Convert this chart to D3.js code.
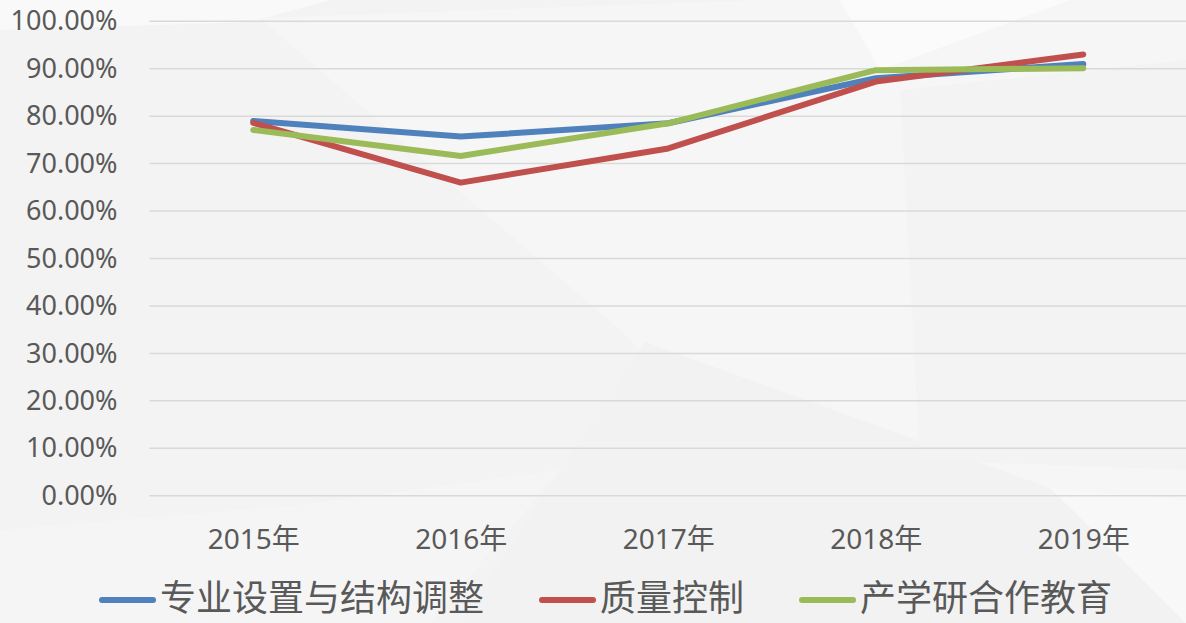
<!DOCTYPE html>
<html>
<head>
<meta charset="utf-8">
<script src="https://cdn.jsdelivr.net/npm/d3@7"></script>
<style>
  html, body { margin: 0; padding: 0; background: #f4f4f4; overflow: hidden; }
  svg { display: block; }
</style>
</head>
<body>
<svg id="chart"></svg>
<script>
// Données du graphique
const years = ["2015年", "2016年", "2017年", "2018年", "2019年"];
const seriesNames = ["专业设置与结构调整", "质量控制", "产学研合作教育"];
const majorSetup = [0.790, 0.757, 0.785, 0.880, 0.910];
const qualityControl = [0.786, 0.660, 0.732, 0.873, 0.930];
const industryEdu = [0.771, 0.716, 0.785, 0.897, 0.901];
const yTicks = [0, 0.1, 0.2, 0.3, 0.4, 0.5, 0.6, 0.7, 0.8, 0.9, 1.0];

const width = 1186;
const height = 623;
const margin = { top: 21.3, right: -1, bottom: 127.3, left: 149.5 };
const colors = ["#4f81bd", "#c0504d", "#9bbb59"];
const textColor = "#595959";

const series = seriesNames.map((name, i) => ({
    name,
    color: colors[i],
    values: [majorSetup, qualityControl, industryEdu][i]
}));

const svg = d3.select("#chart")
    .attr("width", width)
    .attr("height", height);

// Fond géométrique léger
const bg = svg.append("g");
bg.append("rect").attr("width", width).attr("height", height).attr("fill", "#f3f3f3");
const shapes = [
    { pts: [[0, 0], [330, 0], [250, 22], [0, 30]], fill: "#f9f9f9" },
    { pts: [[260, 18], [760, 0], [1190, 0], [1190, 623], [900, 623], [620, 330]], fill: "#f6f6f6" },
    { pts: [[840, 0], [1070, 0], [880, 70]], fill: "#fbfbfb" },
    { pts: [[645, 342], [1050, 488], [1186, 623], [460, 623]], fill: "#f2f2f2" },
    { pts: [[0, 530], [300, 505], [560, 470], [430, 623], [0, 623]], fill: "#f5f5f5" },
    { pts: [[1050, 488], [1186, 500], [1186, 623]], fill: "#f8f8f8" },
    { pts: [[900, 90], [1186, 60], [1186, 470], [920, 460]], fill: "#f3f3f3" }
];
bg.selectAll("polygon")
    .data(shapes)
    .join("polygon")
    .attr("points", d => d.pts.map(p => p.join(",")).join(" "))
    .attr("fill", d => d.fill);

const x = d3.scalePoint()
    .domain(years)
    .range([margin.left, width - margin.right])
    .padding(0.5);

const y = d3.scaleLinear()
    .domain([0, 1])
    .range([height - margin.bottom, margin.top]);

// Lignes de grille
svg.append("g")
    .selectAll("line")
    .data(yTicks)
    .join("line")
    .attr("x1", margin.left)
    .attr("x2", width)
    .attr("y1", d => y(d))
    .attr("y2", d => y(d))
    .attr("stroke", "#d9d9d9")
    .attr("stroke-width", 1.5);

// Axe Y
const yAxis = svg.append("g")
    .attr("transform", `translate(${margin.left}, 0)`)
    .call(d3.axisLeft(y).tickValues(yTicks).tickFormat(d3.format(".2%")).tickSize(0).tickPadding(32));
yAxis.select(".domain").remove();
yAxis.selectAll("text")
    .attr("fill", textColor)
    .style("font-family", "'Noto Sans', sans-serif")
    .style("font-size", "27px");

// Axe X
const xAxis = svg.append("g")
    .attr("transform", `translate(0, ${y(0)})`)
    .call(d3.axisBottom(x).tickSize(0).tickPadding(33));
xAxis.select(".domain").remove();
xAxis.selectAll("text")
    .attr("fill", textColor)
    .style("font-family", "'Noto Sans', 'Noto Sans CJK SC', sans-serif")
    .style("font-size", "28px");

// Courbes
const line = d3.line()
    .x((d, i) => x(years[i]))
    .y(d => y(d));

svg.append("g")
    .selectAll("path")
    .data(series)
    .join("path")
    .attr("d", d => line(d.values))
    .attr("fill", "none")
    .attr("stroke", d => d.color)
    .attr("stroke-width", 6)
    .attr("stroke-linecap", "round")
    .attr("stroke-linejoin", "round");

// Légende
const legend = svg.append("g").attr("class", "legend");
let lx = 100;
series.forEach(s => {
    const item = legend.append("g").attr("transform", `translate(${lx}, 0)`);
    item.append("line")
        .attr("x1", 2).attr("x2", 53)
        .attr("y1", 600).attr("y2", 600)
        .attr("stroke", s.color)
        .attr("stroke-width", 6)
        .attr("stroke-linecap", "round");
    const t = item.append("text")
        .attr("x", 60)
        .attr("y", 611)
        .attr("fill", textColor)
        .style("font-family", "'Noto Sans CJK SC', sans-serif")
        .style("font-size", "36px")
        .text(s.name);
    lx += 60 + t.node().getComputedTextLength() + 56;
});
</script>
</body>
</html>
